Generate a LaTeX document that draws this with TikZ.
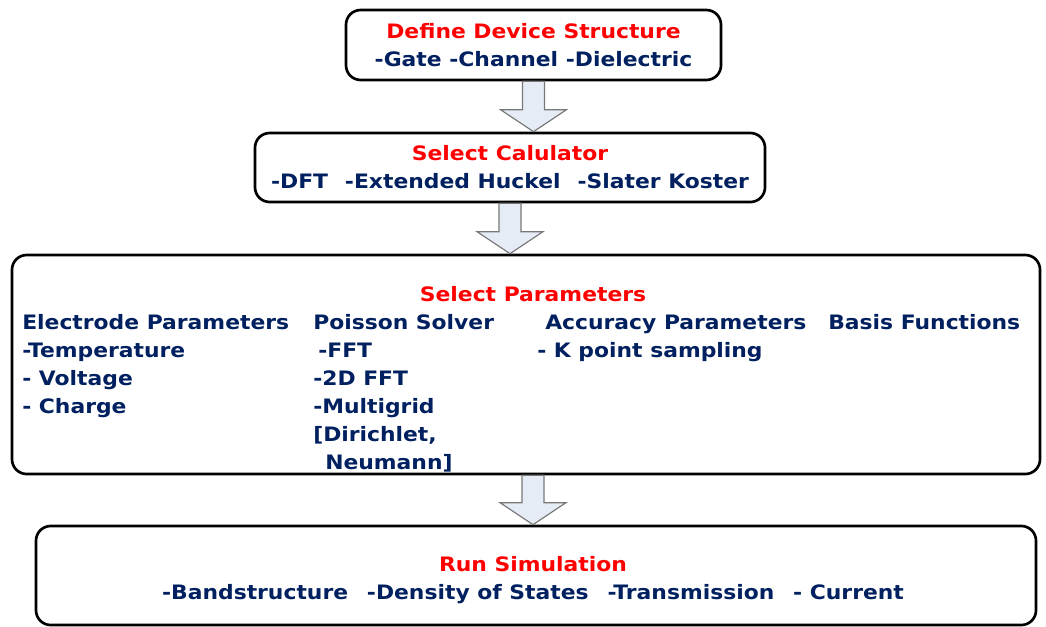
\documentclass[tikz,border=0pt]{standalone}
\usepackage{fontspec}
\setmainfont{DejaVu Sans}[FakeStretch=1.1]
\usetikzlibrary{calc}
\definecolor{titlered}{RGB}{255,0,0}
\definecolor{itemblue}{RGB}{0,32,96}
\definecolor{arrowfill}{RGB}{230,236,246}
\definecolor{arrowline}{RGB}{120,120,120}
% block arrow from the bottom of #2 to the top of #3, #1 shifts it sideways
\newcommand{\blockdown}[3][0pt]{%
  \draw[blockarrow] ([xshift=#1-8.25pt]#2.south)
    -- ($([xshift=#1]#2.south |- #3.north)+(-11,-22)$) -- ++(-22,0)
    -- ([xshift=#1]#2.south |- #3.north) -- ++(33,-22) -- ++(-22,0)
    -- ([xshift=#1+8.25pt]#2.south) -- cycle;}
\begin{document}
\begin{tikzpicture}[x=0.75pt,y=-0.75pt,
  stepbox/.style={draw=black,line width=2pt,rounded corners=11pt,fill=white,
    align=center,text=itemblue,font=\bfseries\fontsize{14.9pt}{21pt}\selectfont},
  item/.style={anchor=west,inner sep=0pt,text=itemblue,text height=0.73em,text depth=0pt,
    font=\bfseries\fontsize{14.9pt}{21pt}\selectfont},
  blockarrow/.style={draw=arrowline,line width=0.9pt,fill=arrowfill}]
\useasboundingbox (0,0) rectangle (1046,626);
\node (define) at (533.5,45) [stepbox,minimum width=281.25pt,minimum height=52.5pt]
  {\textcolor{titlered}{Define Device Structure}\\-Gate -Channel -Dielectric};
\node (calc) at (510,167.5) [stepbox,minimum width=382.5pt,minimum height=51.75pt]
  {\textcolor{titlered}{Select Calulator}\\-DFT\hspace{0.85em}-Extended Huckel\hspace{0.85em}-Slater Koster};
\node (params) at (526,364.5) [stepbox,minimum width=771pt,minimum height=164.25pt] {};
\node (run) at (536,575.5) [stepbox,minimum width=750pt,minimum height=74.25pt] {};
\node (runtext) at (533,580) [stepbox,draw=none,fill=none]
  {\textcolor{titlered}{Run Simulation}\\-Bandstructure\hspace{0.95em}-Density of States\hspace{0.95em}-Transmission\hspace{0.95em}- Current};
\node (partitle) at (533,297) [item,anchor=center,text=titlered] {Select Parameters};
\node (e1) at (22,325) [item] {Electrode Parameters};
\node (e2) at (22,353) [item] {-Temperature};
\node (e3) at (22,381) [item] {- Voltage};
\node (e4) at (22,409) [item] {- Charge};
\node (p1) at (313,325) [item] {Poisson Solver};
\node (p2) at (318,353) [item] {-FFT};
\node (p3) at (313,381) [item] {-2D FFT};
\node (p4) at (313,409) [item] {-Multigrid};
\node (p5) at (313,437) [item] {[Dirichlet,};
\node (p6) at (325,465) [item] {Neumann]};
\node (a1) at (545,325) [item] {Accuracy Parameters};
\node (a2) at (537,353) [item] {- K point sampling};
\node (b1) at (828,325) [item] {Basis Functions};
\blockdown{define}{calc}
\blockdown{calc}{params}
\blockdown[5.25pt]{params}{run}
\end{tikzpicture}
\end{document}
